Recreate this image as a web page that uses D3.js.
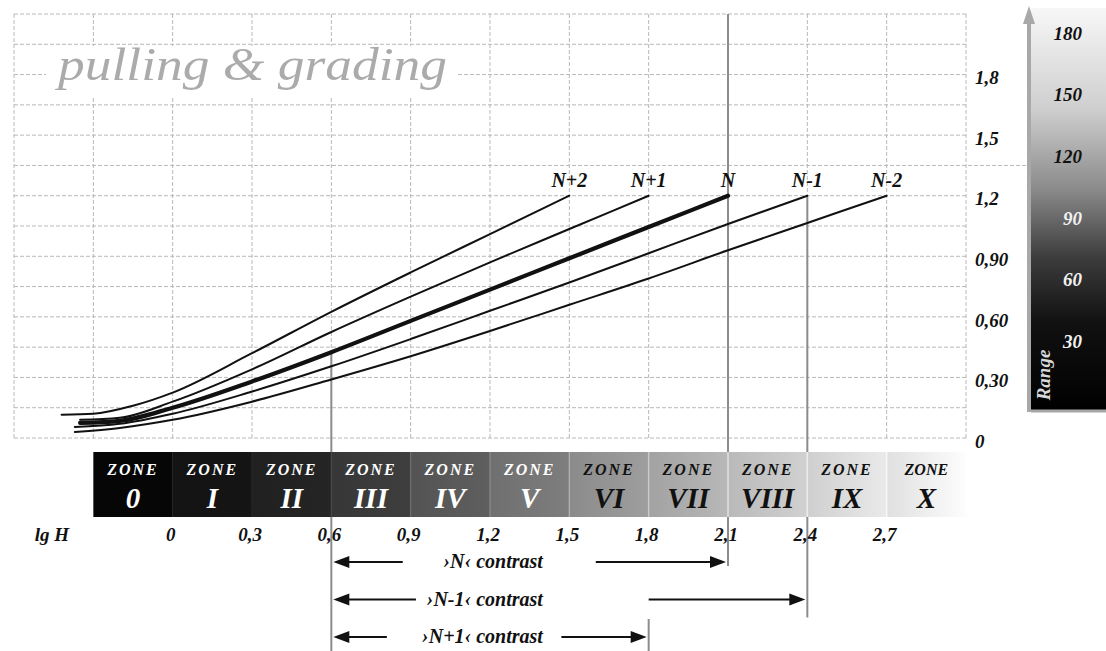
<!DOCTYPE html>
<html><head><meta charset="utf-8">
<script src="https://cdn.jsdelivr.net/npm/d3@7"></script>
<style>
body{margin:0;background:#fff}
svg{display:block}
text{font-family:"Liberation Serif",serif;font-weight:bold;font-style:italic}
</style></head>
<body><svg id="chart" width="1106" height="651"></svg>
<script>
// ---------- data ----------
const curveNames = ["N+2", "N+1", "N", "N-1", "N-2"];
const curveNp2 = [[-0.42,0.115],[-0.3,0.12],[-0.15,0.16],[0,0.225],[0.3,0.42],[0.6,0.625],[0.9,0.82],[1.2,1.01],[1.5,1.2]];
const curveNp1 = [[-0.35,0.09],[-0.2,0.1],[0,0.18],[0.3,0.34],[0.6,0.525],[0.9,0.7],[1.2,0.87],[1.5,1.035],[1.8,1.2]];
const curveN   = [[-0.35,0.075],[-0.2,0.085],[0,0.15],[0.3,0.28],[0.6,0.425],[0.9,0.58],[1.2,0.735],[1.5,0.89],[1.8,1.045],[2.1,1.2]];
const curveNm1 = [[-0.37,0.055],[-0.2,0.07],[0,0.12],[0.3,0.23],[0.6,0.355],[0.9,0.49],[1.2,0.63],[1.5,0.77],[1.8,0.915],[2.1,1.06],[2.4,1.2]];
const curveNm2 = [[-0.37,0.03],[-0.2,0.05],[0,0.09],[0.3,0.18],[0.6,0.29],[0.9,0.405],[1.2,0.53],[1.5,0.66],[1.8,0.79],[2.1,0.93],[2.4,1.065],[2.7,1.2]];
const densityTicks = [0, 0.3, 0.6, 0.9, 1.2, 1.5, 1.8];
const densityTickLabels = ["0", "0,30", "0,60", "0,90", "1,2", "1,5", "1,8"];
const lgHTicks = [0, 0.3, 0.6, 0.9, 1.2, 1.5, 1.8, 2.1, 2.4, 2.7];
const lgHTickLabels = ["0", "0,3", "0,6", "0,9", "1,2", "1,5", "1,8", "2,1", "2,4", "2,7"];
const zoneNumerals = ["0", "I", "II", "III", "IV", "V", "VI", "VII", "VIII", "IX", "X"];
const zoneColors = ["#060606", "#141414", "#222222", "#3a3a3a", "#585858", "#757575", "#939393", "#ababab", "#c3c3c3", "#dadada", "#ececec"];
const rangeTicks = [30, 60, 90, 120, 150, 180];
const contrastLabels = ["›N‹ contrast", "›N-1‹ contrast", "›N+1‹ contrast"];
const contrastFrom = [0.6, 0.6, 0.6];
const contrastTo = [2.1, 2.4, 1.8];
const contrastGapStart = [0.87, 0.92, 0.81];
const contrastGapEnd = [1.6, 1.8, 1.47];

// ---------- layout ----------
const svg = d3.select("#chart");
const x = d3.scaleLinear().domain([-0.6, 3.0]).range([14, 966]);
const y = d3.scaleLinear().domain([0, 2.1]).range([438, 14]);
const rY = d3.scaleLinear().domain([0, 180]).range([403, 33]);
const rowY = d3.scalePoint().domain(contrastLabels).range([562, 637]);
const curves = [curveNp2, curveNp1, curveN, curveNm1, curveNm2];

const defs = svg.append("defs");

// grid
const grid = svg.append("g").attr("stroke", "#b8b8b8").attr("stroke-width", 1).attr("stroke-dasharray", "4,2");
grid.selectAll("line.v").data(d3.range(-0.6, 3.0001, 0.3)).join("line")
  .attr("x1", d => x(d)).attr("x2", d => x(d)).attr("y1", y(2.1)).attr("y2", y(0));
grid.selectAll("line.h").data(d3.range(0, 2.1001, 0.15)).join("line")
  .attr("x1", x(-0.6)).attr("x2", d => Math.abs(d - 1.35) < 1e-6 ? 1030 : x(3.0))
  .attr("y1", d => y(d)).attr("y2", d => y(d));

// title
svg.append("rect").attr("x", 46).attr("y", 46).attr("width", 410).attr("height", 51).attr("fill", "#fff");
svg.append("text").attr("x", 58).attr("y", 80).attr("fill", "#ababab")
  .style("font-weight", "normal").style("font-size", "47px")
  .attr("textLength", 389).attr("lengthAdjust", "spacingAndGlyphs")
  .text("pulling & grading");

// solid reference lines
const refColor = "#8c8c8c";
const ref = svg.append("g").attr("stroke", refColor).attr("stroke-width", 2);
ref.append("line").attr("x1", x(2.1)).attr("x2", x(2.1)).attr("y1", y(2.1)).attr("y2", rowY(contrastLabels[0]) + 4);
ref.append("line").attr("x1", x(2.4)).attr("x2", x(2.4)).attr("y1", y(1.2)).attr("y2", rowY(contrastLabels[1]) + 18);
ref.append("line").attr("x1", x(0.6)).attr("x2", x(0.6)).attr("y1", y(0.425)).attr("y2", 651);
ref.append("line").attr("x1", x(1.8)).attr("x2", x(1.8)).attr("y1", rowY(contrastLabels[2]) - 18).attr("y2", 651);

// curves
const line = d3.line().x(d => x(d[0])).y(d => y(d[1])).curve(d3.curveMonotoneX);
svg.append("g").selectAll("path").data(curves).join("path")
  .attr("d", line).attr("fill", "none").attr("stroke", "#111")
  .attr("stroke-width", (d, i) => curveNames[i] === "N" ? 4.2 : 2)
  .attr("stroke-linecap", "round");
svg.append("g").selectAll("text").data(curves).join("text")
  .attr("x", d => x(d[d.length - 1][0])).attr("y", d => y(d[d.length - 1][1]) - 9)
  .attr("text-anchor", "middle").style("font-size", "20px").attr("fill", "#111")
  .text((d, i) => curveNames[i]);

// right density axis labels
svg.append("g").selectAll("text").data(densityTicks).join("text")
  .attr("x", 975).attr("y", d => y(d) + 3).attr("dy", "0.35em")
  .style("font-size", "19px").attr("fill", "#111")
  .text((d, i) => densityTickLabels[i]);

// range gradient bar
const rg = defs.append("linearGradient").attr("id", "rangeGrad").attr("x1", 0).attr("y1", 0).attr("x2", 0).attr("y2", 1);
[["0%", "#f7f7f7"], ["25%", "#cfcfcf"], ["45%", "#8a8a8a"], ["62%", "#3c3c3c"], ["78%", "#111"], ["100%", "#000"]]
  .forEach(s => rg.append("stop").attr("offset", s[0]).attr("stop-color", s[1]));
svg.append("rect").attr("x", 1031).attr("y", 8).attr("width", 75).attr("height", 403).attr("fill", "url(#rangeGrad)");
svg.append("line").attr("x1", 1031).attr("x2", 1106).attr("y1", 411).attr("y2", 411).attr("stroke", "#a8a8a8").attr("stroke-width", 3);
svg.append("line").attr("x1", 1029).attr("x2", 1029).attr("y1", 20).attr("y2", 412).attr("stroke", "#a8a8a8").attr("stroke-width", 4);
svg.append("path").attr("d", "M1029,6 L1035,24 L1023,24 Z").attr("fill", "#a8a8a8");
svg.append("g").selectAll("text").data(rangeTicks).join("text")
  .attr("x", 1082).attr("y", d => rY(d)).attr("dy", "0.35em").attr("text-anchor", "end")
  .style("font-size", "19px").attr("fill", d => d >= 120 ? "#111" : "#f2f2f2")
  .text(d => d);
svg.append("text").attr("transform", "translate(1050,375) rotate(-90)")
  .attr("text-anchor", "middle").style("font-size", "19px").attr("fill", "#d8d8d8").text("Range");

// zone bar
const zoneTop = 452, zoneBottom = 517;
const zones = svg.append("g");
zoneNumerals.forEach((z, k) => {
  const c = d3.color(zoneColors[k]);
  const g = defs.append("linearGradient").attr("id", "zg" + k).attr("x1", 0).attr("x2", 1).attr("y1", 0).attr("y2", 0);
  g.append("stop").attr("offset", "0%").attr("stop-color", c.darker(0.15));
  g.append("stop").attr("offset", "100%").attr("stop-color", c.brighter(0.2));
});
zones.selectAll("rect").data(zoneNumerals).join("rect")
  .attr("x", (d, k) => x(-0.3 + 0.3 * k)).attr("y", zoneTop)
  .attr("width", x(0.3) - x(0)).attr("height", zoneBottom - zoneTop)
  .attr("fill", (d, k) => `url(#zg${k})`);
zones.selectAll("line").data(zoneNumerals.slice(1)).join("line")
  .attr("x1", (d, k) => x(0.3 * k)).attr("x2", (d, k) => x(0.3 * k))
  .attr("y1", zoneTop).attr("y2", zoneBottom)
  .attr("stroke", (d, k) => d3.color(zoneColors[k + 1]).brighter(0.6)).attr("stroke-width", 1.5).attr("opacity", 0.7);
zones.selectAll("text.zw").data(zoneNumerals).join("text").attr("class", "zw")
  .attr("x", (d, k) => x(-0.15 + 0.3 * k)).attr("y", 475).attr("text-anchor", "middle")
  .style("font-size", "16px").style("letter-spacing", (d, k) => k === 10 ? "0px" : "2px")
  .attr("fill", (d, k) => k <= 5 ? "#fff" : "#111").text("ZONE");
zones.selectAll("text.zn").data(zoneNumerals).join("text").attr("class", "zn")
  .attr("x", (d, k) => x(-0.15 + 0.3 * k)).attr("y", 508).attr("text-anchor", "middle")
  .style("font-size", "29px")
  .attr("fill", (d, k) => k <= 5 ? "#fff" : "#111").text(d => d);

// lg H axis labels
svg.append("text").attr("x", 52).attr("y", 541).attr("text-anchor", "middle").style("font-size", "19px").attr("fill", "#111").text("lg H");
svg.append("g").selectAll("text").data(lgHTicks).join("text")
  .attr("x", d => x(d) - 2).attr("y", 541).attr("text-anchor", "middle")
  .style("font-size", "19px").attr("fill", "#111")
  .text((d, i) => lgHTickLabels[i]);

// contrast arrows
const arrows = svg.append("g");
contrastLabels.forEach((lab, i) => {
  const yy = rowY(lab);
  const x0 = x(contrastFrom[i]) + 2, x1 = x(contrastTo[i]) - 2;
  arrows.append("line").attr("x1", x0 + 14).attr("x2", x(contrastGapStart[i])).attr("y1", yy).attr("y2", yy).attr("stroke", "#111").attr("stroke-width", 2);
  arrows.append("line").attr("x1", x(contrastGapEnd[i])).attr("x2", x1 - 14).attr("y1", yy).attr("y2", yy).attr("stroke", "#111").attr("stroke-width", 2);
  arrows.append("path").attr("d", `M${x0},${yy} L${x0 + 16},${yy - 6} L${x0 + 16},${yy + 6} Z`).attr("fill", "#111");
  arrows.append("path").attr("d", `M${x1},${yy} L${x1 - 16},${yy - 6} L${x1 - 16},${yy + 6} Z`).attr("fill", "#111");
  arrows.append("text").attr("x", x(1.4)).attr("y", yy + 6).attr("text-anchor", "end")
    .style("font-size", "20px").attr("fill", "#111").text(lab);
});
</script></body></html>
